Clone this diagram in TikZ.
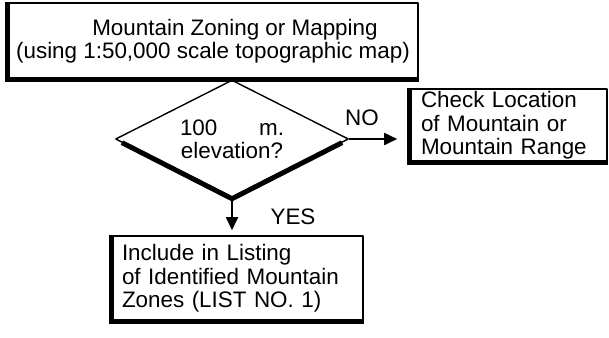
\documentclass[tikz,border=0pt]{standalone}
\usepackage{fontspec}
\setmainfont{Liberation Sans}
\usetikzlibrary{arrows.meta,shapes.geometric}

\begin{document}
\begin{tikzpicture}[x=1bp,y=-1bp,>={Triangle[length=13bp,width=12bp]},line join=bevel,
  every node/.style={font=\fontsize{22.5}{23.5}\selectfont},
  flowbox/.style={draw,line width=1.6bp,inner sep=0pt},
  thickedge/.style={line width=5bp,line join=miter}]
\useasboundingbox (0,0) rectangle (609,337);
%%
\node (zoning) at (213,41) [flowbox,minimum width=410bp,minimum height=76bp,align=center] {\hspace*{44bp}Mountain Zoning or Mapping\\(using 1:50,000 scale topographic map)};
  \node (elev) at (232,139) [draw,diamond,aspect=2,line width=1.4bp,minimum width=233bp,minimum height=118bp,inner sep=0pt,align=center] {\hbox to 104bp{100\hfill m.}\\elevation?};
  \node (check) at (508.5,125.5) [flowbox,minimum width=197bp,minimum height=73bp,inner xsep=11bp,text width=175bp,align=left] {Check Location\\of Mountain or\\Mountain Range};
  \node (listing) at (237.5,278.5) [flowbox,minimum width=251bp,minimum height=85bp,inner xsep=10bp,text width=231bp,align=left] {Include in Listing\\of Identified Mountain\\Zones (LIST NO. 1)};
  \foreach \b in {zoning,check,listing}
    \draw [thickedge] (\b.north west) -- (\b.south west) -- (\b.south east);
  \draw [thickedge,shorten <=8bp,shorten >=8bp] (elev.west) -- (elev.south) -- (elev.east);
  \draw [->,line width=1.8bp,shorten >=12bp] (elev.east) -- (elev.east -| check.west);
  \draw (362,118) node (no) {NO};
  \draw [->,line width=1.8bp,shorten >=5bp] (elev.south) -- (elev.south |- listing.north);
  \draw (293,217) node (yes) {YES};
%
\end{tikzpicture}
\end{document}
